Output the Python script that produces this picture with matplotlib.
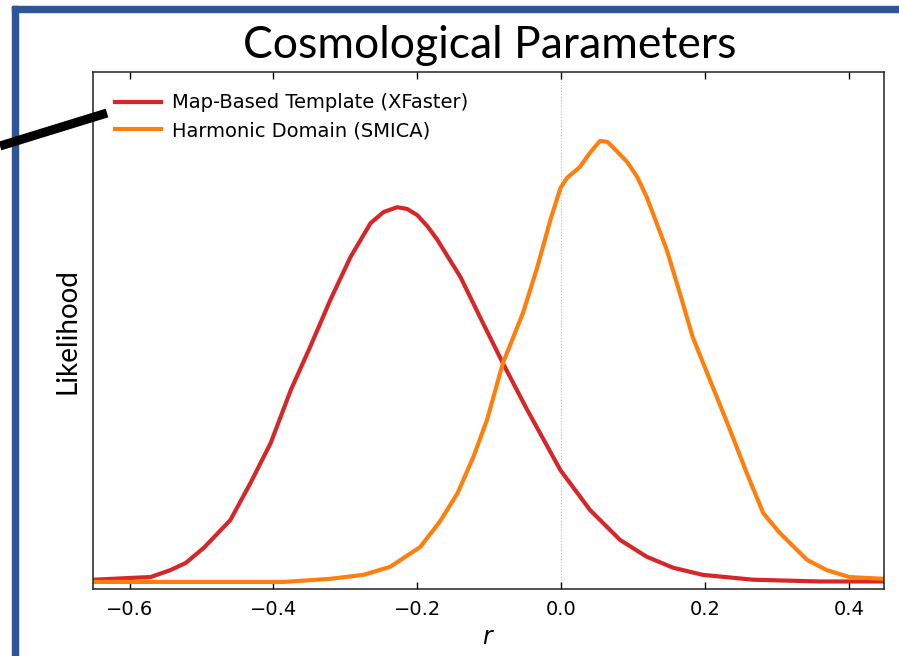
import matplotlib
matplotlib.use("Agg")
import matplotlib.pyplot as plt
from matplotlib.lines import Line2D
from matplotlib.patches import Rectangle

# likelihood curves (normalised so the SMICA peak ~ 1)
r_xfaster = [-0.650, -0.599, -0.571, -0.543, -0.522, -0.497, -0.460, -0.432, -0.404,
             -0.376, -0.349, -0.321, -0.293, -0.265, -0.247, -0.228, -0.214, -0.200,
             -0.186, -0.172, -0.140, -0.113, -0.081, -0.047, -0.001, 0.040, 0.082,
             0.119, 0.156, 0.197, 0.267, 0.360, 0.449]
L_xfaster = [0.005, 0.009, 0.011, 0.027, 0.043, 0.077, 0.140, 0.224, 0.314,
             0.434, 0.532, 0.638, 0.735, 0.812, 0.837, 0.848, 0.844, 0.830,
             0.805, 0.774, 0.690, 0.600, 0.495, 0.389, 0.253, 0.163, 0.095,
             0.057, 0.032, 0.016, 0.005, 0.001, 0.001]

r_smica = [-0.650, -0.386, -0.321, -0.275, -0.238, -0.196, -0.168, -0.144, -0.122,
           -0.103, -0.081, -0.053, -0.033, -0.015, -0.001, 0.008, 0.026, 0.040,
           0.054, 0.064, 0.072, 0.092, 0.106, 0.119, 0.147, 0.165, 0.183,
           0.203, 0.231, 0.258, 0.281, 0.304, 0.342, 0.369, 0.401, 0.449]
L_smica = [0.0, 0.0, 0.007, 0.016, 0.034, 0.079, 0.138, 0.201, 0.283,
           0.367, 0.495, 0.609, 0.713, 0.819, 0.891, 0.914, 0.939, 0.971,
           0.998, 0.996, 0.984, 0.950, 0.916, 0.871, 0.751, 0.654, 0.554,
           0.473, 0.360, 0.247, 0.156, 0.111, 0.050, 0.027, 0.011, 0.007]

labels = ["Map-Based Template (XFaster)", "Harmonic Domain (SMICA)"]
xticks = [-0.6, -0.4, -0.2, 0.0, 0.2, 0.4]

fig = plt.figure(figsize=(8.99, 6.56), dpi=100)
W, H = 899, 656

# slide frame (left and top edges only visible)
blue = "#2F5597"
fig.patches.append(Rectangle((12 / W, 0), 6 / W, 1 - 6 / H, transform=fig.transFigure,
                             color=blue, zorder=0))
fig.patches.append(Rectangle((12 / W, 1 - 12 / H), 1, 6 / H, transform=fig.transFigure,
                             color=blue, zorder=0))

ax = fig.add_axes([93 / W, 1 - 589 / H, (884 - 93) / W, (589 - 72) / H])
ax.plot(r_xfaster, L_xfaster, color="#d62728", lw=3, label=labels[0])
ax.plot(r_smica, L_smica, color="#ff7f0e", lw=3, label=labels[1])
ax.axvline(0, color="#bbbbbb", lw=0.8, ls=":", zorder=0)

ax.set_xlim(-0.651, 0.449)
ax.set_ylim(-0.016, 1.154)
ax.set_xticks(xticks)
ax.set_xticklabels(["\u2212%.1f" % abs(t) if t < 0 else "%.1f" % t for t in xticks])
ax.set_yticks([])
ax.tick_params(axis="x", direction="in", top=True, length=5, width=1, labelsize=14, pad=8)
for s in ax.spines.values():
    s.set_linewidth(1.1)
    s.set_color("#222222")

ax.set_xlabel("$r$", fontsize=17, labelpad=4)

leg = ax.legend(loc="upper left", frameon=False, fontsize=14, handlelength=2.4,
                handletextpad=0.55, labelspacing=0.45, borderaxespad=0.3,
                bbox_to_anchor=(0.01, 0.985))

fig.text(490 / W, 1 - 45 / H, "Cosmological Parameters", ha="center", va="center",
         fontsize=32, family="Lato")
fig.text(68 / W, 1 - 331 / H, "Likelihood", ha="center", va="center", rotation=90,
         fontsize=20, family="Lato")

# black pointer line from the slide edge
fig.add_artist(Line2D([0, 107 / W], [1 - 146 / H, 1 - 113 / H], transform=fig.transFigure,
                      color="black", lw=6.5, solid_capstyle="butt"))

fig.savefig("out.png", dpi=100)
